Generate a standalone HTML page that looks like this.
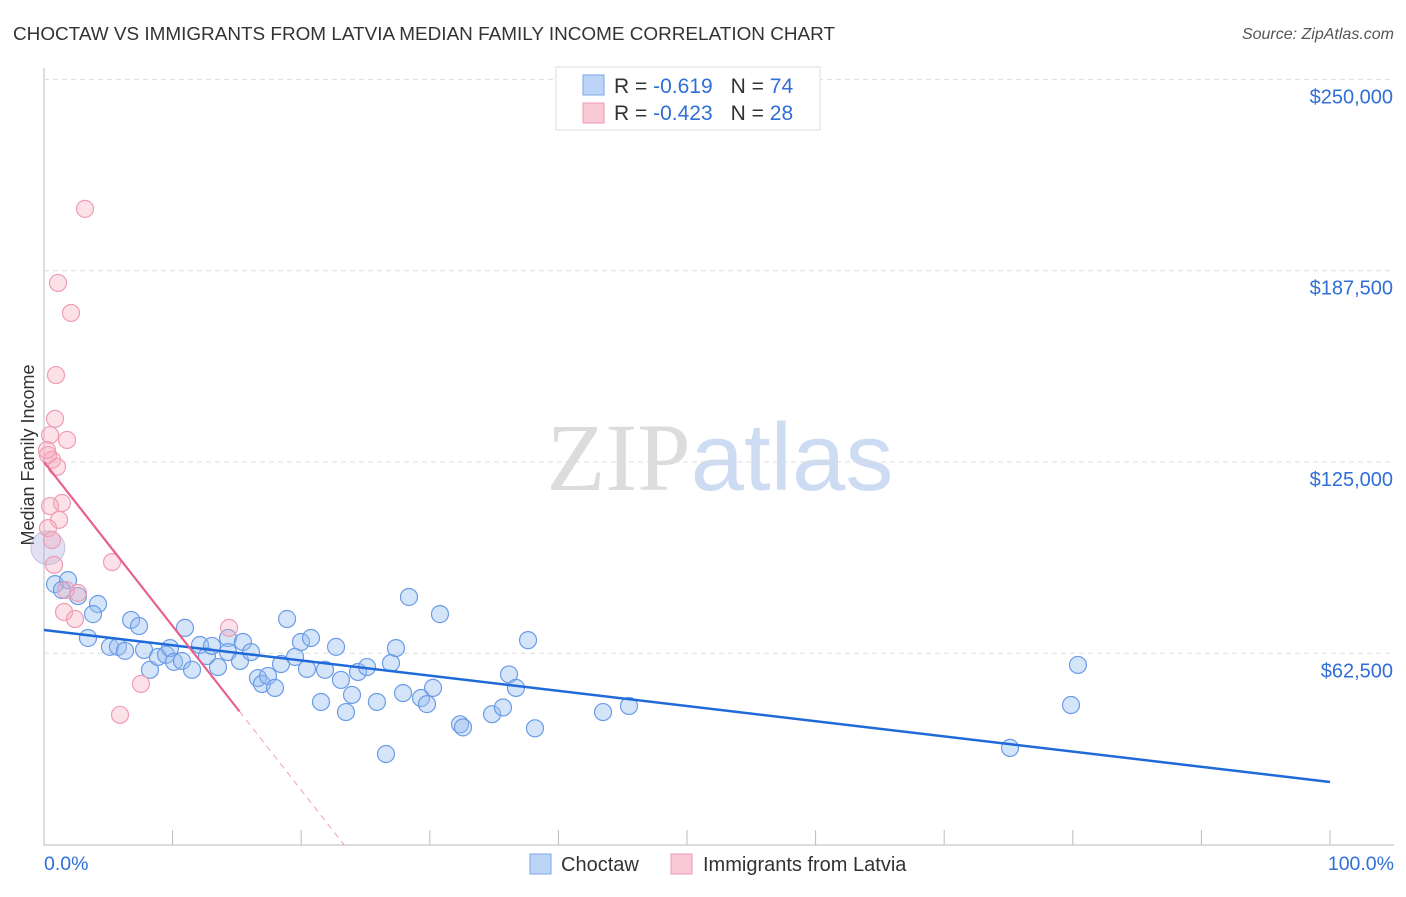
<!DOCTYPE html>
<html><head><meta charset="utf-8"><style>
body{margin:0;background:#fff;font-family:"Liberation Sans",sans-serif;}
svg text{font-family:"Liberation Sans",sans-serif;}
</style></head><body>
<svg id="chart" width="1406" height="892" xmlns="http://www.w3.org/2000/svg">
<text x="13" y="40" font-size="18" fill="#333" textLength="822" lengthAdjust="spacingAndGlyphs">CHOCTAW VS IMMIGRANTS FROM LATVIA MEDIAN FAMILY INCOME CORRELATION CHART</text>
<text x="1394" y="39" font-size="16" fill="#555" text-anchor="end" font-style="italic">Source: ZipAtlas.com</text>
<text x="720" y="490" font-size="96" text-anchor="middle"><tspan fill="#dcdcdc" font-family="Liberation Serif">ZIP</tspan><tspan fill="#cddcf2">atlas</tspan></text>
<text transform="translate(34,455) rotate(-90)" font-size="18" fill="#333" text-anchor="middle">Median Family Income</text>
<g id="grid"></g>
<g id="marks"></g>
<g>
<rect x="556" y="67" width="264" height="63" fill="#fff" stroke="#ddd"/>
<rect x="583" y="75" width="21" height="20" fill="#bcd4f6" stroke="#7aa6e8"/>
<rect x="583" y="103" width="21" height="20" fill="#f9c9d6" stroke="#ec9ab3"/>
<text x="614" y="93" font-size="21" fill="#333">R = <tspan fill="#2f6fd6"> -0.619</tspan><tspan fill="#333" dx="18">N = </tspan><tspan fill="#2f6fd6">74</tspan></text>
<text x="614" y="120" font-size="21" fill="#333">R = <tspan fill="#2f6fd6">-0.423</tspan><tspan fill="#333" dx="18">N = </tspan><tspan fill="#2f6fd6">28</tspan></text>
</g>
<g>
<rect x="530" y="854" width="21" height="20" fill="#bcd4f6" stroke="#7aa6e8"/>
<text x="561" y="871" font-size="20" fill="#333">Choctaw</text>
<rect x="671" y="854" width="21" height="20" fill="#f9c9d6" stroke="#ec9ab3"/>
<text x="703" y="871" font-size="20" fill="#333">Immigrants from Latvia</text>
</g>
</svg>
<script>
const yTicks=[62500,125000,187500,250000];
const yTickLabels=["$62,500","$125,000","$187,500","$250,000"];
const xTickLabels=["0.0%","100.0%"];
const blueX=[0.86,1.87,1.40,2.64,4.20,3.81,3.42,5.13,5.75,6.30,6.77,7.39,7.78,8.24,8.86,9.49,9.80,10.11,10.96,10.73,11.51,12.13,12.67,13.06,13.53,14.31,14.31,15.24,15.47,16.10,16.64,16.95,17.42,17.96,18.43,18.90,19.52,19.98,20.45,20.76,21.54,21.85,22.71,23.09,23.48,23.95,24.42,25.12,25.89,26.59,26.98,27.37,27.92,28.38,29.32,29.78,30.25,30.79,32.35,32.58,34.84,35.69,36.16,36.70,37.64,38.18,43.47,45.49,75.12,80.40,79.86];
const blueY=[85100,86400,83200,81200,78600,75300,67500,64600,64600,63300,73400,71400,63600,57100,61300,62000,64200,59700,70800,60000,57100,65200,61600,64900,58000,67500,62900,60000,66200,62900,54400,52500,55100,51200,59000,73700,61300,66200,57400,67500,46600,57100,64600,53800,43300,48900,56400,58000,46600,29600,59300,64200,49500,80900,47900,45900,51200,75300,39300,38300,42600,44800,55600,51200,66800,38000,43300,45300,31600,58700,45600];
const pinkX=[3.19,1.09,2.10,0.93,0.86,1.79,0.47,0.31,0.62,1.01,0.23,1.40,0.47,1.17,0.31,0.62,0.78,5.29,2.64,1.56,2.41,14.39,7.54,5.91,1.71];
const pinkY=[207700,183500,173700,153400,139100,132200,133800,127300,125700,123400,128900,111600,110600,106100,103400,99500,91400,92300,82200,76000,73700,70800,52500,42400,83200];
const blueTrend=[70100,20450];
const pinkTrend=[125000,-5360];
const pinkSolidEnd=15.2;
const L=44,R=1330,Y0=844.6,PX=191.3/62500;
const sx=p=>L+(R-L)*p/100, sy=v=>Y0-v*PX;
const NS="http://www.w3.org/2000/svg";
const grid=document.getElementById('grid'), marks=document.getElementById('marks');
function mk(t,a,parent){const e=document.createElementNS(NS,t);for(const k in a)e.setAttribute(k,a[k]);parent.appendChild(e);return e;}
let ax=mk('line',{x1:L,y1:68,x2:L,y2:845,stroke:'#bbb'},grid);


let bx=mk('line',{x1:L,y1:845,x2:1394,y2:845,stroke:'#bbb'},grid);


yTicks.forEach((v,i)=>{
  const g=mk('line',{x1:L,y1:sy(v),x2:1394,y2:sy(v),stroke:'#ddd','stroke-dasharray':'5,4'},grid);
  
  
  const t=mk('text',{x:1393,y:sy(v)+24,'font-size':20,fill:'#2f6fd6','text-anchor':'end'},grid);
  t.textContent=yTickLabels[i];
  
  
});
for(let i=0;i<=10;i++){
  const t=mk('line',{x1:sx(i*10),y1:830,x2:sx(i*10),y2:845,stroke:'#bbb'},grid);
  
  
}
[[0,'start',44],[100,'end',1394]].forEach((d,i)=>{
  const t=mk('text',{x:d[2],y:870,'font-size':19.5,fill:'#2f6fd6','text-anchor':d[1]},grid);
  t.textContent=xTickLabels[i];
  
  
});
const big=mk('circle',{cx:sx(0.3),cy:sy(97000),r:17,fill:'rgba(170,170,220,0.35)',stroke:'rgba(150,150,210,0.5)'},marks);


blueX.forEach((x,i)=>{
  const c=mk('circle',{cx:sx(x),cy:sy(blueY[i]),r:8.5,fill:'rgba(150,190,240,0.4)',stroke:'#6b9be6','stroke-width':1.2},marks);
  
  
});
pinkX.forEach((x,i)=>{
  const c=mk('circle',{cx:sx(x),cy:sy(pinkY[i]),r:8.5,fill:'rgba(245,170,190,0.35)',stroke:'#ee9db5','stroke-width':1.2},marks);
  
  
});
const bl=mk('line',{x1:sx(0),y1:sy(blueTrend[0]),x2:sx(100),y2:sy(blueTrend[1]),stroke:'#1f6ad8','stroke-width':2.5},marks);


const pz=-pinkTrend[0]/pinkTrend[1];
const pl=mk('line',{x1:sx(0),y1:sy(pinkTrend[0]),x2:sx(pinkSolidEnd),y2:sy(pinkTrend[0]+pinkTrend[1]*pinkSolidEnd),stroke:'#e8608c','stroke-width':2.2},marks);


const pd=mk('line',{x1:sx(pinkSolidEnd),y1:sy(pinkTrend[0]+pinkTrend[1]*pinkSolidEnd),x2:sx(pz),y2:sy(0),stroke:'#eea0b8','stroke-width':1,'stroke-dasharray':'6,5'},marks);


</script>
</body></html>
